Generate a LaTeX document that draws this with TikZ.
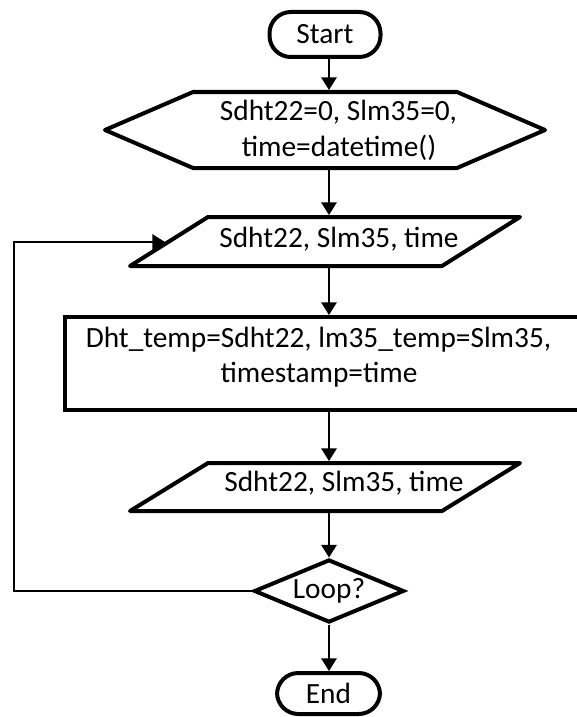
\documentclass[tikz,border=0pt]{standalone}
\usepackage{fontspec}
\setmainfont{Carlito}
\usetikzlibrary{arrows.meta,shapes.geometric}
\begin{document}
\begin{tikzpicture}[x=0.75pt,y=-0.75pt,
  shp/.style={line width=3pt, line join=round, line cap=round},
  con/.style={line width=1.5pt, -{Triangle[length=9.5pt,width=11.5pt]}},
  lbl/.style={inner sep=0pt, font=\fontsize{22}{27}\selectfont, anchor=base},
  frame/.style 2 args={inner sep=0pt, outer sep=0pt, minimum width=#1*0.75pt, minimum height=#2*0.75pt},
  term/.style={draw, line width=3pt, rounded corners=16pt, inner sep=0pt, outer sep=1.5pt, font=\fontsize{22}{27}\selectfont},
]
\useasboundingbox (0,0) rectangle (576,717);

% Start
\node[term, minimum width=111*0.75pt, minimum height=45*0.75pt] (start) at (325,34.5) {Start};

% Initialisation hexagon
\node[frame={444}{80}] (hex) at (329,130) {};
\draw[shp] (105,130) -- (193,92) -- (457,92) -- (545,130) -- (457,168) -- (193,168) -- cycle;
\node[lbl] (hexA) at (338.5,120) {Sdht22=0, Slm35=0,};
\node[lbl] (hexB) at (339,156) {time=datetime()};

% Input parallelogram
\node[frame={392}{53}] (p1) at (329,241.5) {};
\draw[shp] (208,217) -- (520,217) -- (442,266) -- (130,266) -- cycle;
\node[lbl] (p1T) at (339,247) {Sdht22, Slm35, time};

% Process rectangle
\node[draw, line width=3pt, inner sep=0pt, outer sep=1.5pt,
      minimum width=526*0.75pt, minimum height=93*0.75pt] (rect) at (328,363.5) {};
\node[lbl] (rectA) at (318.5,347) {Dht\_temp=Sdht22, lm35\_temp=Slm35,};
\node[lbl] (rectB) at (319,382) {timestamp=time};

% Output parallelogram
\node[frame={392}{52}] (p2) at (329,487) {};
\draw[shp] (208,463) -- (520,463) -- (442,511) -- (130,511) -- cycle;
\node[lbl] (p2T) at (344,491) {Sdht22, Slm35, time};

% Decision
\node[draw, diamond, aspect=2.4, line width=3pt, inner sep=0pt, outer sep=1.5pt,
      minimum width=150*0.75pt, minimum height=63*0.75pt,
      font=\fontsize{22}{27}\selectfont] (loop) at (329,591) {Loop?};

% End
\node[term, minimum width=103*0.75pt, minimum height=41*0.75pt] (end) at (328.5,693.5) {End};

% Connectors
\draw[con] (start.south -| hex.north) -- (hex.north);
\draw[con] (hex.south) -- (p1.north);
\draw[con] (p1.south) -- (rect.north -| p1.south);
\draw[con] (rect.south -| p2.north) -- (p2.north);
\draw[con] (p2.south) -- (loop.north);
\draw[con] (loop.south) -- (end.north -| loop.south);

% Loop back
\coordinate (lpA) at (14,591);
\coordinate (lpB) at (14,242);
\coordinate (p1L) at (165,242);
\draw[con] (loop.west) -- (lpA) -- (lpB) -- (p1L);
\end{tikzpicture}
\end{document}
